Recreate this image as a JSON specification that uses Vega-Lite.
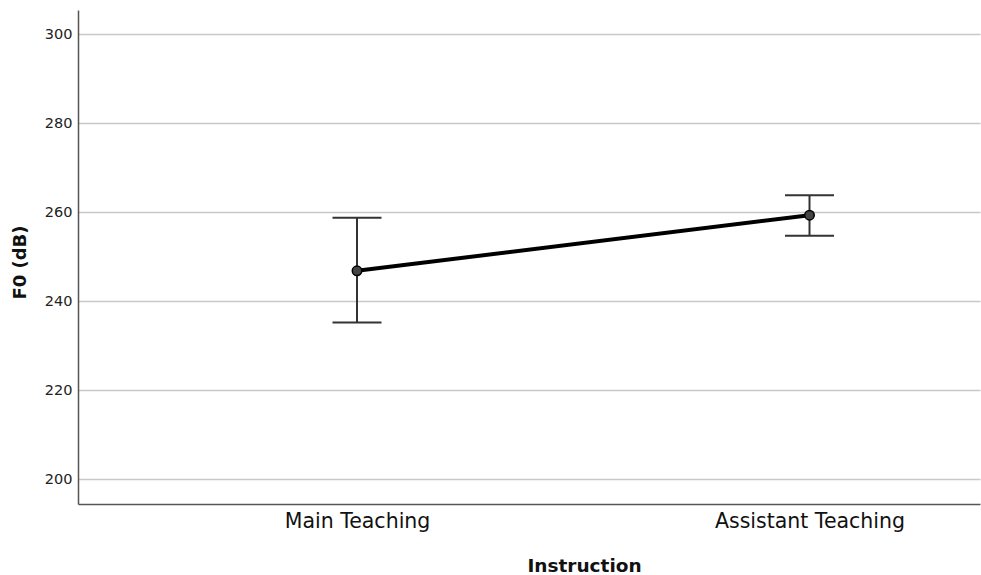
{
  "$schema": "https://vega.github.io/schema/vega-lite/v6.json",
  "autosize": "none",
  "width": 902,
  "height": 494,
  "padding": {"left": 78, "top": 10, "right": 1, "bottom": 71},
  "background": "white",
  "config": {
    "view": {"stroke": null},
    "font": "DejaVu Sans"
  },
  "data": {
    "values": [
      {"Instruction": "Main Teaching", "mean": 246.8, "lower": 235.2, "upper": 258.7},
      {"Instruction": "Assistant Teaching", "mean": 259.3, "lower": 254.7, "upper": 263.8}
    ]
  },
  "encoding": {
    "x": {
      "field": "Instruction",
      "type": "nominal",
      "sort": ["Main Teaching", "Assistant Teaching"],
      "scale": {"type": "point", "padding": 0.4967, "align": 0.6207},
      "axis": {
        "title": "Instruction",
        "titleFont": "DejaVu Sans",
        "titleFontWeight": "bold",
        "titleFontSize": 18.5,
        "titleColor": "#111",
        "titleX": 506,
        "titleY": 61,
        "titleAlign": "center",
        "titleBaseline": "middle",
        "labelAngle": 0,
        "labelFont": "DejaVu Sans",
        "labelFontSize": 20.5,
        "labelColor": "#111",
        "labelPadding": 7,
        "labelLimit": 0,
        "ticks": false,
        "grid": false,
        "domainColor": "#555",
        "domainWidth": 1.5
      }
    }
  },
  "layer": [
    {
      "mark": {"type": "rule", "color": "#333", "strokeWidth": 2},
      "encoding": {
        "y": {
          "field": "lower",
          "type": "quantitative",
          "scale": {"domain": [194.4, 305.4], "nice": false, "zero": false},
          "axis": {
            "title": "F0 (dB)",
            "titleFont": "DejaVu Sans",
            "titleFontWeight": "bold",
            "titleFontSize": 18,
            "titleColor": "#111",
            "titleX": -58,
            "titleY": 252,
            "titleAlign": "center",
            "titleBaseline": "middle",
            "values": [200, 220, 240, 260, 280, 300],
            "labelFont": "DejaVu Sans",
            "labelFontSize": 14.5,
            "labelColor": "#222",
            "labelPadding": 6,
            "ticks": false,
            "grid": true,
            "gridColor": "#c8c8c8",
            "gridWidth": 1.5,
            "domainColor": "#555",
            "domainWidth": 1.5
          }
        },
        "y2": {"field": "upper"}
      }
    },
    {
      "mark": {"type": "tick", "color": "#333", "size": 49, "thickness": 2, "opacity": 1},
      "encoding": {"y": {"field": "lower", "type": "quantitative"}}
    },
    {
      "mark": {"type": "tick", "color": "#333", "size": 49, "thickness": 2, "opacity": 1},
      "encoding": {"y": {"field": "upper", "type": "quantitative"}}
    },
    {
      "mark": {"type": "line", "color": "#000", "strokeWidth": 4},
      "encoding": {"y": {"field": "mean", "type": "quantitative"}}
    },
    {
      "mark": {"type": "point", "shape": "circle", "filled": true, "fill": "#444", "stroke": "#000", "strokeWidth": 1.5, "size": 90, "opacity": 1},
      "encoding": {"y": {"field": "mean", "type": "quantitative"}}
    }
  ]
}
